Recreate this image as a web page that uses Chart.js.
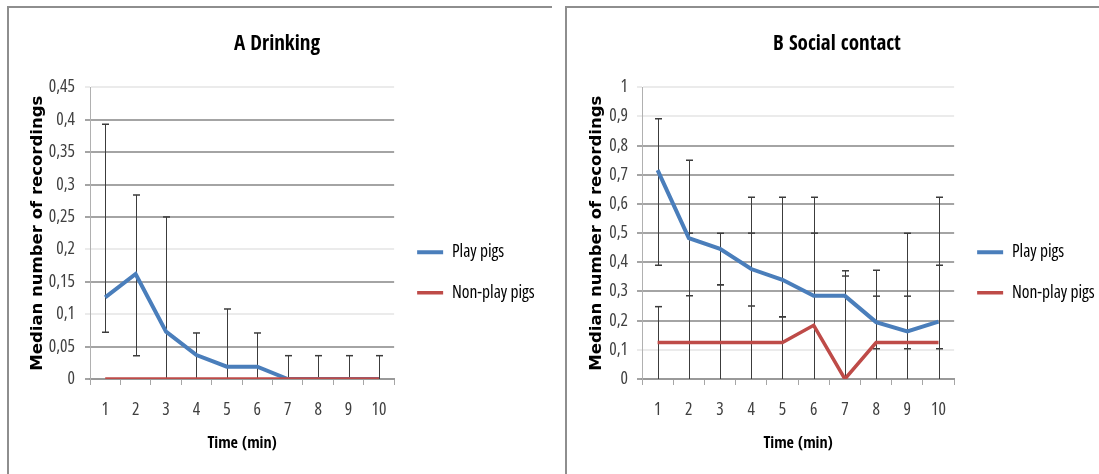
<!DOCTYPE html>
<html>
<head>
<meta charset="utf-8">
<script src="https://cdn.jsdelivr.net/npm/chart.js@4.4.1/dist/chart.umd.min.js"></script>
<style>
  body { margin: 0; background: #fff; overflow: hidden; width: 1099px; height: 474px; }
  .frame { position: absolute; top: 6px; height: 480px; border-top: 2px solid #8e8e8e; border-left: 2px solid #8e8e8e; }
  #frameA { left: 7px; width: 543px; }
  #frameB { left: 565px; width: 540px; }
  canvas { position: absolute; }
  #drinking { left: 8px; top: 7px; }
  #social { left: 567px; top: 7px; }
</style>
</head>
<body>
<div class="frame" id="frameA"></div>
<div class="frame" id="frameB"></div>
<canvas id="drinking" width="542" height="467"></canvas>
<canvas id="social" width="540" height="467"></canvas>
<script>
const minutes = ["1", "2", "3", "4", "5", "6", "7", "8", "9", "10"];

// A Drinking
const drinkPlay = [0.126, 0.162, 0.073, 0.037, 0.019, 0.019, 0, 0, 0, 0];
const drinkNonPlay = [0, 0, 0, 0, 0, 0, 0, 0, 0, 0];
const drinkPlayLow = [0.072, 0.036, 0, 0, 0, 0, 0, 0, 0, 0];
const drinkPlayHigh = [0.393, 0.284, 0.25, 0.071, 0.108, 0.071, 0.036, 0.036, 0.036, 0.036];
const drinkTicks = ["0", "0,05", "0,1", "0,15", "0,2", "0,25", "0,3", "0,35", "0,4", "0,45"];

// B Social contact
const socialPlay = [0.716, 0.483, 0.446, 0.377, 0.34, 0.285, 0.285, 0.195, 0.163, 0.197];
const socialNonPlay = [0.125, 0.125, 0.125, 0.125, 0.125, 0.184, 0, 0.125, 0.125, 0.125];
const socialPlayLow = [0.39, 0.285, 0.323, 0.25, 0.213, 0, 0, 0.104, 0.104, 0.104];
const socialPlayHigh = [0.892, 0.75, 0.5, 0.623, 0.623, 0.623, 0.371, 0.373, 0.5, 0.623];
const socialNonPlayLow = [0, 0, 0, 0, 0, 0, 0, 0, 0, 0];
const socialNonPlayHigh = [0.248, 0.5, 0.323, 0.5, 0.213, 0.5, 0.353, 0.284, 0.284, 0.39];
const socialTicks = ["0", "0,1", "0,2", "0,3", "0,4", "0,5", "0,6", "0,7", "0,8", "0,9", "1"];

const blue = "#4a7ebb";
const red = "#be4b48";
const dark = "#a4a4a4";
const light = "#ebebeb";
// narrow fonts: Open Sans with condensed width, and the bold condensed face
const narrow = { family: '"Open Sans", sans-serif', weight: "condensed", size: 17.5 };
const narrowBold = '"Open Sans Condensed", "Open Sans", sans-serif';

// gridline shades as they come out in the scanned figure
const drinkGrid = [dark, dark, light, dark, light, dark, dark, dark, dark, light];
const socialGrid = [dark, light, dark, dark, dark, dark, dark, dark, dark, light, light];

// vertical error bars with caps, drawn under the lines
const errorBars = {
  id: "errorBars",
  beforeDatasetsDraw(chart) {
    const ctx = chart.ctx;
    const x = chart.scales.x;
    const y = chart.scales.y;
    ctx.save();
    ctx.strokeStyle = "#3c3c3c";
    chart.data.datasets.forEach(function (ds) {
      if (!ds.errLow) return;
      ds.errLow.forEach(function (lo, i) {
        const hi = ds.errHigh[i];
        const px = Math.round(x.getPixelForValue(i)) + 0.5;
        const yLo = y.getPixelForValue(lo);
        const yHi = y.getPixelForValue(hi);
        ctx.lineWidth = 1;
        ctx.beginPath();
        ctx.moveTo(px, yLo);
        ctx.lineTo(px, yHi);
        ctx.stroke();
        ctx.lineWidth = 1.5;
        ctx.beginPath();
        ctx.moveTo(px - 3.5, yHi);
        ctx.lineTo(px + 3.5, yHi);
        if (lo > 0) {
          ctx.moveTo(px - 3.5, yLo);
          ctx.lineTo(px + 3.5, yLo);
        }
        ctx.stroke();
      });
    });
    ctx.restore();
  },
};

function drawPanel(id, title, play, nonPlay, err, ticks, yMax, yStep, gridColors, o) {
  new Chart(document.getElementById(id), {
    type: "line",
    data: {
      labels: minutes,
      datasets: [
        {
          label: "Play pigs",
          data: play,
          borderColor: blue,
          backgroundColor: blue,
          borderWidth: 4,
          pointRadius: 0,
          tension: 0,
          order: 1,
          errLow: err.playLow,
          errHigh: err.playHigh,
        },
        {
          label: "Non-play pigs",
          data: nonPlay,
          borderColor: red,
          backgroundColor: red,
          borderWidth: 3.5,
          pointRadius: 0,
          tension: 0,
          order: 0,
          errLow: err.nonPlayLow,
          errHigh: err.nonPlayHigh,
        },
      ],
    },
    options: {
      responsive: false,
      devicePixelRatio: 1,
      animation: false,
      layout: { padding: { left: o.padLeft, right: o.padRight, top: 0, bottom: 0 } },
      scales: {
        x: {
          offset: true,
          grid: { offset: true, drawOnChartArea: false, drawTicks: true, tickLength: 6, color: "#a6a6a6" },
          border: { color: "#999999", width: 2 },
          ticks: { color: "#404040", padding: 15, maxRotation: 0, autoSkip: false, font: narrow },
          title: {
            display: true,
            text: "Time (min)",
            color: "#000",
            font: { family: narrowBold, size: 16, weight: "bold" },
            padding: { top: 0, bottom: 20.7 },
          },
          afterFit: function (s) { s.height = 95; },
        },
        y: {
          min: 0,
          max: yMax,
          ticks: {
            stepSize: yStep,
            color: "#404040",
            padding: o.tickPad,
            font: narrow,
            callback: function (v, i) { return ticks[i]; },
          },
          grid: { color: function (c) { return gridColors[c.index]; }, lineWidth: 2, tickLength: 5 },
          border: { color: "#b0b0b0" },
          title: {
            display: true,
            text: "Median number of recordings",
            color: "#000",
            font: { family: "DejaVu Sans", size: 16.5, weight: "bold" },
            padding: { top: o.yTitlePad, bottom: 0 },
          },
          afterFit: function (s) { s.width = o.yWidth; },
        },
      },
      plugins: {
        title: {
          display: true,
          text: title,
          color: "#000",
          font: { family: narrowBold, size: 21, weight: "bold" },
          padding: { top: 25.4, bottom: 29.7 },
        },
        legend: {
          position: "right",
          maxWidth: 220,
          // empty legend title only pushes the two entries down to mid-height
          title: { display: true, text: "", font: { size: 10 }, padding: { top: 52, bottom: 0 } },
          labels: {
            usePointStyle: true,
            pointStyle: "line",
            pointStyleWidth: 26,
            padding: 23,
            color: "#000",
            font: narrow,
            sort: function (a, b) { return a.datasetIndex - b.datasetIndex; },
          },
        },
        tooltip: { enabled: false },
      },
    },
    plugins: [errorBars],
  });
}

drawPanel("drinking", "A Drinking", drinkPlay, drinkNonPlay,
  { playLow: drinkPlayLow, playHigh: drinkPlayHigh },
  drinkTicks, 0.45, 0.05, drinkGrid,
  { padLeft: 1.25, padRight: 5.25, yWidth: 80.75, yTitlePad: 18.5, tickPad: 10 });

drawPanel("social", "B Social contact", socialPlay, socialNonPlay,
  { playLow: socialPlayLow, playHigh: socialPlayHigh, nonPlayLow: socialNonPlayLow, nonPlayHigh: socialNonPlayHigh },
  socialTicks, 1, 0.1, socialGrid,
  { padLeft: 2.25, padRight: 2.25, yWidth: 72.75, yTitlePad: 17.85, tickPad: 9 });
</script>
</body>
</html>
